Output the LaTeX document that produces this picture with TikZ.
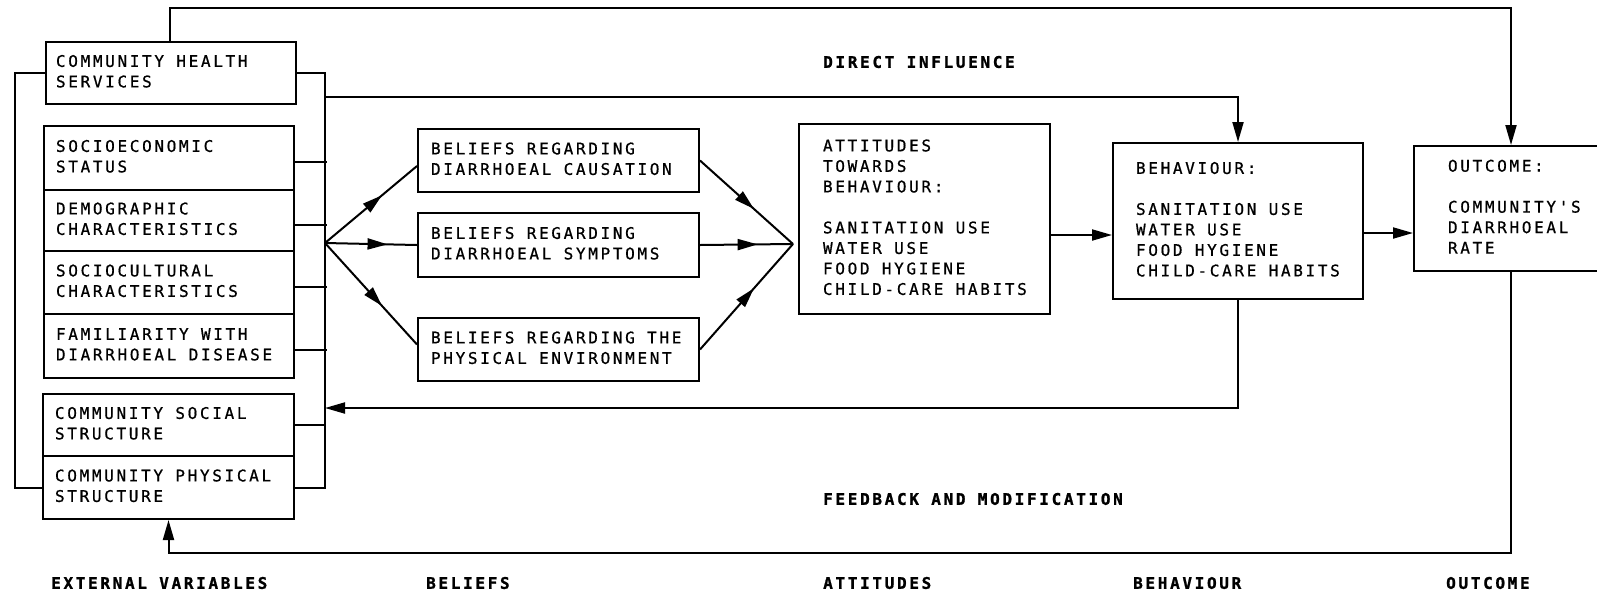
\documentclass[tikz,border=0pt]{standalone}
\usepackage{fontspec}
\usetikzlibrary{arrows.meta,decorations.markings,calc}
\newfontfamily\plotfont{DejaVu Sans Mono}[LetterSpace=16.7,FakeBold=0.8]
\newfontfamily\plotheavy{DejaVu Sans Mono Bold}[LetterSpace=16.7,FakeBold=1.2]
\newcommand\bxt[3]{\makebox[#2][l]{\hspace*{#1}\begin{tabular}{@{}l@{}}#3\end{tabular}}}
\begin{document}
\begin{tikzpicture}[x=1pt,y=-1pt,
  ln/.style={line width=2pt},
  arr/.style={ln,-{Triangle[length=20pt,width=11pt]}},
  midarr/.style={ln,postaction={decorate},decoration={markings,mark=at position #1 with {\arrow{Triangle[length=20pt,width=11pt]}}}},
  box/.style={draw,line width=2pt,rectangle,anchor=north west,inner sep=0pt,font=\plotfont\fontsize{16}{20.5}\selectfont},
  lab/.style={anchor=west,inner sep=0pt,font=\plotheavy\fontsize{16}{20.5}\selectfont}]
\useasboundingbox (0,0) rectangle (1597,595);

% external variables
\node[box,minimum width=250pt,minimum height=62pt] (chs) at (45,41) {\bxt{10pt}{250pt}{COMMUNITY HEALTH\\SERVICES}};
\node[box,minimum width=250pt,minimum height=64pt] (sec) at (43,125) {\bxt{12pt}{250pt}{SOCIOECONOMIC\\STATUS}};
\node[box,minimum width=250pt,minimum height=61pt] (dem) at (43,189) {\bxt{12pt}{250pt}{DEMOGRAPHIC\\CHARACTERISTICS}};
\node[box,minimum width=250pt,minimum height=63pt] (soc) at (43,250) {\bxt{12pt}{250pt}{SOCIOCULTURAL\\CHARACTERISTICS}};
\node[box,minimum width=250pt,minimum height=64pt] (fam) at (43,313) {\bxt{12pt}{250pt}{FAMILIARITY WITH\\DIARRHOEAL DISEASE}};
\node[box,minimum width=251pt,minimum height=62pt] (css) at (42,393) {\bxt{12pt}{251pt}{COMMUNITY SOCIAL\\STRUCTURE}};
\node[box,minimum width=251pt,minimum height=63pt] (cps) at (42,455) {\bxt{12pt}{251pt}{COMMUNITY PHYSICAL\\STRUCTURE}};

% beliefs
\node[box,minimum width=281pt,minimum height=63pt] (b1) at (417,128) {\bxt{13pt}{281pt}{BELIEFS REGARDING\\DIARRHOEAL CAUSATION}};
\node[box,minimum width=281pt,minimum height=64pt] (b2) at (417,212) {\bxt{13pt}{281pt}{BELIEFS REGARDING\\DIARRHOEAL SYMPTOMS}};
\node[box,minimum width=281pt,minimum height=63pt] (b3) at (417,317) {\bxt{13pt}{281pt}{BELIEFS REGARDING THE\\PHYSICAL ENVIRONMENT}};

% attitudes, behaviour, outcome
\node[box,minimum width=251pt,minimum height=190pt] (att) at (798,123) {\bxt{24pt}{251pt}{ATTITUDES\\TOWARDS\\BEHAVIOUR:\\ \\SANITATION USE\\WATER USE\\FOOD HYGIENE\\CHILD-CARE HABITS}};
\node[box,minimum width=250pt,minimum height=156pt] (beh) at (1112,142) {\bxt{23pt}{250pt}{BEHAVIOUR:\\ \\SANITATION USE\\WATER USE\\FOOD HYGIENE\\CHILD-CARE HABITS}};
\node[box,minimum width=194pt,minimum height=125pt] (out) at (1413,145) {\bxt{34pt}{194pt}{OUTCOME:\\ \\COMMUNITY'S\\DIARRHOEAL\\RATE}};

% helper coordinates
\coordinate (rb) at (325,0);
\coordinate (lb) at (15,0);
\coordinate (topy) at (0,8);
\coordinate (ds) at (325,97);
\coordinate (fan) at (325,243);
\coordinate (conv) at (793,244);
\coordinate (ab) at (0,235);
\coordinate (bo) at (0,233);
\coordinate (fb) at (0,408);
\coordinate (boty) at (0,553);
\coordinate (tl) at ($(chs.north west)+(125,0)$);

% brackets
\draw[ln] (chs.east) -- (rb |- chs.east) -- (rb |- cps.east) -- (cps.east);
\draw[ln] (chs.west) -- (lb |- chs.west) -- (lb |- cps.west) -- (cps.west);
\draw[ln] ([yshift=-4pt]sec.east) -- ++(32,0);
\draw[ln] ([yshift=-4pt]dem.east) -- ++(32,0);
\draw[ln] ([yshift=-4pt]soc.east) -- ++(32,0);
\draw[ln] ([yshift=-4pt]fam.east) -- ++(32,0);
\draw[ln] (css.east) -- (rb |- css.east);

% fan to beliefs
\draw[midarr=0.62] (fan) -- ([yshift=-5.5pt]b1.west);
\draw[midarr=0.68] (fan) -- (b2.west);
\draw[midarr=0.62] (fan) -- ([yshift=5pt]b3.west);

% beliefs to attitudes
\draw[midarr=0.58] (b1.east) -- (conv);
\draw[midarr=0.62] (b2.east) -- (conv);
\draw[midarr=0.58] (b3.east) -- (conv);

% main chain
\draw[arr] (att.east |- ab) -- (beh.west |- ab);
\draw[arr] (beh.east |- bo) -- (out.west |- bo);

% direct influence
\draw[arr] (ds) -| (beh.north);
\draw[arr] (tl) -- (tl |- topy) -| (out.north);

% feedback
\draw[arr] (beh.south) |- (rb |- fb);
\draw[arr] (out.south) -- (out.south |- boty) -| (cps.south);

% labels
\node[lab] (ldi) at (823,62) {DIRECT INFLUENCE};
\node[lab] (lfb) at (823,499) {FEEDBACK AND MODIFICATION};
\node[lab] (lev) at (51,583) {EXTERNAL VARIABLES};
\node[lab] (lbl) at (426,583) {BELIEFS};
\node[lab] (lat) at (823,583) {ATTITUDES};
\node[lab] (lbh) at (1133,583) {BEHAVIOUR};
\node[lab] (lou) at (1446,583) {OUTCOME};
\end{tikzpicture}
\end{document}
